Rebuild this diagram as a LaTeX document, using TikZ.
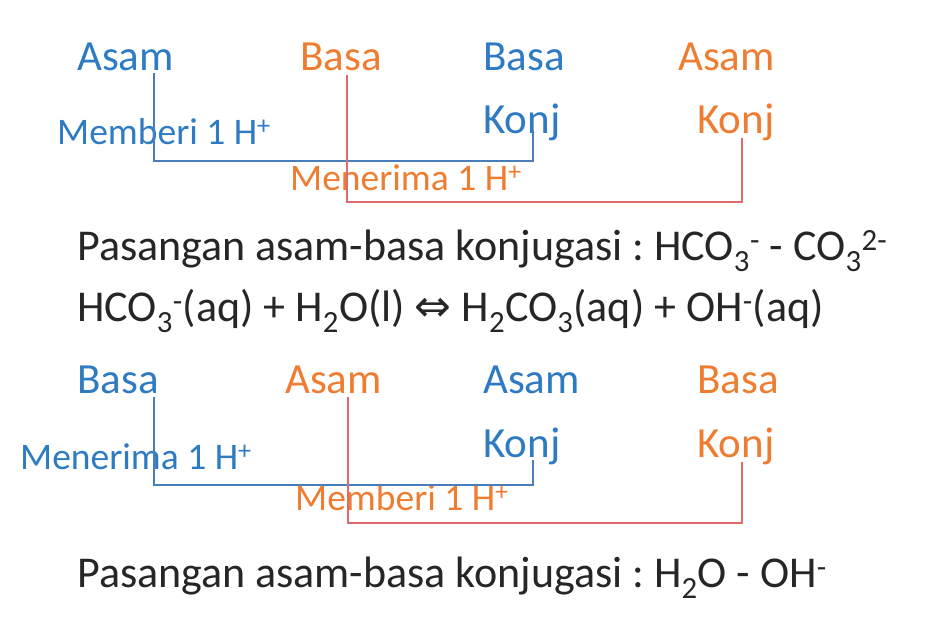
\documentclass[tikz,border=0pt]{standalone}
\usepackage{fontspec}
\setmainfont{Carlito}
\newfontfamily\symfont{DejaVu Sans}
\usetikzlibrary{positioning}
\definecolor{txtblue}{HTML}{2E7BC4}
\definecolor{txtorange}{HTML}{EE7D31}
\definecolor{lnblue}{HTML}{4A7EBB}
\definecolor{lnred}{HTML}{DE6A6E}
\definecolor{txtgray}{HTML}{262626}
\tikzset{
  lbl/.style={inner sep=0pt, anchor=base west, font=\fontsize{43}{43}\selectfont},
  small/.style={inner sep=0pt, anchor=base west, font=\fontsize{37.5}{37.5}\selectfont},
  eq/.style={inner sep=0pt, anchor=base west, text=txtgray, font=\fontsize{44}{44}\selectfont},
  bluelink/.style={draw=lnblue, line width=2.5pt},
  redlink/.style={draw=lnred, line width=2.5pt},
}
\frenchspacing

\begin{document}
\begin{tikzpicture}[x=1pt,y=-1pt]
		\useasboundingbox (0,0) rectangle (938,622);
		%%%%% HCO3- sebagai asam %%%%%
		\node[lbl, text=txtblue] (asamA) at (77,70) {Asam};
		\node[lbl, text=txtorange] (basaA) at (300,70) {Basa};
		\node[lbl, text=txtblue] (basaKA) at (483,70) {Basa};
		\node[lbl, text=txtorange] (asamKA) at (678,70) {Asam};
		\node[lbl, text=txtblue] (konjBA) at (483,133) {Konj};
		\node[lbl, text=txtorange] (konjOA) at (697,133) {Konj};
		\node[small, text=txtblue] (beriA) at (57,144) {Memberi 1 H\textsuperscript{+}};
		\node[small, text=txtorange] (terimaA) at (290,190) {Menerima 1 H\textsuperscript{+}};
		
		\draw[bluelink] ([shift={(77,3)}]asamA.base west) -- ++(0,88) -| ([shift={(50,-3)}]konjBA.base west);
		\draw[redlink] ([shift={(47,5)}]basaA.base west) -- ++(0,127) -| ([shift={(45,5)}]konjOA.base west);
		
		\node[eq] (pairA) at (77,260) {Pasangan asam-basa konjugasi : HCO\textsubscript{3}\textsuperscript{-} - CO\textsubscript{3}\textsuperscript{2-}};
		\node[eq] (reaksi) at (77,321) {HCO\textsubscript{3}\textsuperscript{-}(aq) + H\textsubscript{2}O(l) {\symfont ⇔} H\textsubscript{2}CO\textsubscript{3}(aq) + OH\textsuperscript{-}(aq)};
		
		%%%%% HCO3- sebagai basa %%%%%
		\node[lbl, text=txtblue] (basaB) at (77,393) {Basa};
		\node[lbl, text=txtorange] (asamB) at (285,393) {Asam};
		\node[lbl, text=txtblue] (asamKB) at (483,393) {Asam};
		\node[lbl, text=txtorange] (basaKB) at (697,393) {Basa};
		\node[lbl, text=txtblue] (konjBB) at (483,457) {Konj};
		\node[lbl, text=txtorange] (konjOB) at (697,457) {Konj};
		\node[small, text=txtblue] (terimaB) at (20,469) {Menerima 1 H\textsuperscript{+}};
		\node[small, text=txtorange] (beriB) at (295,510) {Memberi 1 H\textsuperscript{+}};
		
		\draw[bluelink] ([shift={(77,4)}]basaB.base west) -- ++(0,88) -| ([shift={(50,3)}]konjBB.base west);
		\draw[redlink] ([shift={(63,4)}]asamB.base west) -- ++(0,126) -| ([shift={(45,5)}]konjOB.base west);
		
		\node[eq] (pairB) at (77,587) {Pasangan asam-basa konjugasi : H\textsubscript{2}O - OH\textsuperscript{-}};
	\end{tikzpicture}
\end{document}
